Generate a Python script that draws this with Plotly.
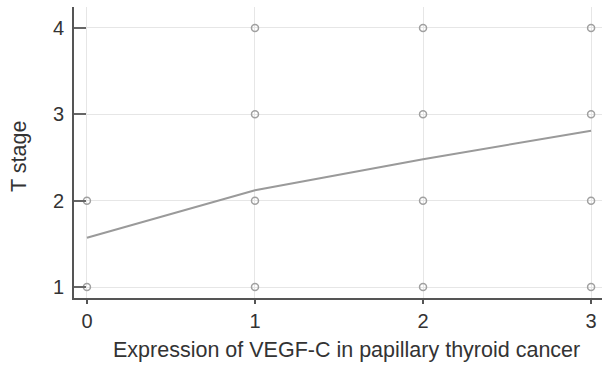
import plotly.graph_objects as go

# scatter points (observed combinations)
pts_x = [0, 0, 1, 1, 1, 1, 2, 2, 2, 2, 3, 3, 3, 3]
pts_y = [1, 2, 1, 2, 3, 4, 1, 2, 3, 4, 1, 2, 3, 4]

# fitted line
line_x = [0, 1, 2, 3]
line_y = [1.57, 2.12, 2.48, 2.81]

x_ticks = [0, 1, 2, 3]
y_ticks = [1, 2, 3, 4]

x_title = "Expression of VEGF-C in papillary thyroid cancer"
y_title = "T stage"

fig = go.Figure()
fig.add_trace(go.Scatter(x=line_x, y=line_y, mode="lines",
                         line=dict(color="#9a9a9a", width=2), showlegend=False))
fig.add_trace(go.Scatter(x=pts_x, y=pts_y, mode="markers",
                         marker=dict(symbol="circle-open", size=7,
                                     color="#a0a0a0", line=dict(width=1.5)),
                         showlegend=False, cliponaxis=False))

font = dict(family="Liberation Sans, Arial, sans-serif", size=20, color="#333333")
tfont = dict(family="Liberation Sans, Arial, sans-serif", size=21.5, color="#333333")
fig.update_layout(
    width=602, height=365,
    margin=dict(l=74, r=0, t=7, b=67),
    paper_bgcolor="white", plot_bgcolor="white",
    font=font,
    xaxis=dict(range=[-0.077, 3.065], tickvals=x_ticks, showgrid=True,
               gridcolor="#e6e6e6", gridwidth=1, zeroline=False,
               showline=True, linecolor="#555555", linewidth=2,
               ticks="outside", ticklen=4, tickcolor="#555555", tickwidth=1.5,
               tickfont=font),
    yaxis=dict(range=[0.873, 4.243], tickvals=y_ticks, showgrid=True,
               gridcolor="#e6e6e6", gridwidth=1, zeroline=False,
               showline=True, linecolor="#555555", linewidth=2,
               ticks="inside", ticklen=12, tickcolor="#666666", tickwidth=1.5,
               ticklabelstandoff=4,
               tickfont=font),
    annotations=[
        dict(text=x_title, xref="paper", yref="paper", x=0.517, y=-0.179,
             xanchor="center", yanchor="middle", showarrow=False, font=tfont),
        dict(text=y_title, xref="paper", yref="paper", x=-0.104, y=0.485,
             xanchor="center", yanchor="middle", showarrow=False, font=tfont,
             textangle=-90),
    ],
)
fig.write_html("out.html")
